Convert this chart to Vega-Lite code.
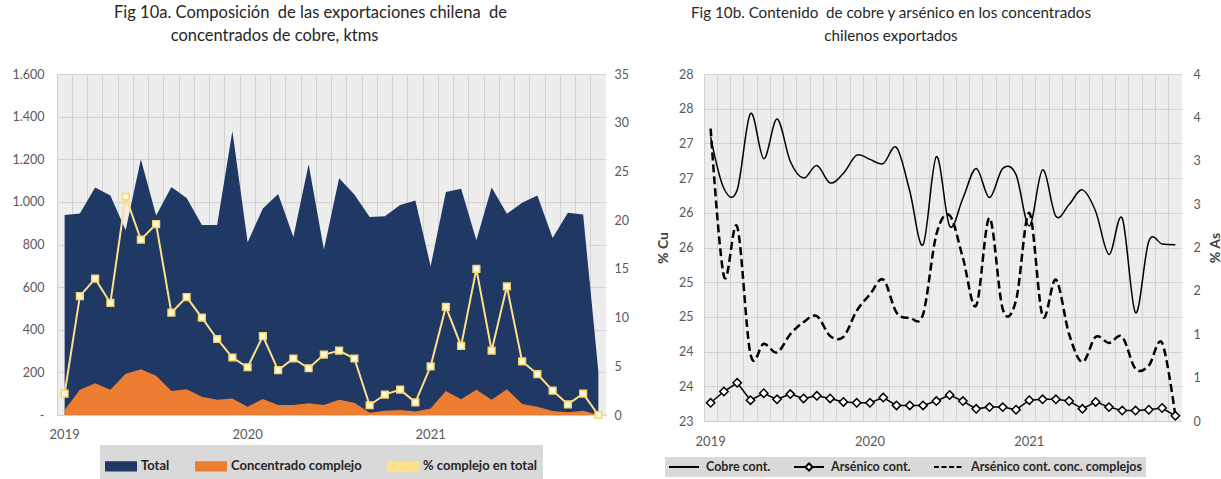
{
  "$schema": "https://vega.github.io/schema/vega-lite/v6.json",
  "background": "white",
  "padding": {"left": 12, "top": 4, "right": 0, "bottom": 0},
  "spacing": 27,
  "config": {
    "font": "Lato",
    "view": {"fill": "#ededed", "stroke": null},
    "axis": {"labelFont": "Lato", "labelFontSize": 12.5, "labelColor": "#595959", "domain": false, "ticks": false, "gridColor": "#d2d2d2", "titleFont": "Lato"},
    "title": {"font": "Lato", "fontWeight": "normal", "color": "#262626", "lineHeight": 23, "frame": "group", "anchor": "middle"}
  },
  "data": {"values": [
    {"m": "2019-01", "total": 938, "comp": 24, "pct": 2.2, "cu": 27.09, "arsenico": 0.21, "arsenico_cc": 3.37},
    {"m": "2019-02", "total": 946, "comp": 118, "pct": 12.2, "cu": 26.35, "arsenico": 0.34, "arsenico_cc": 1.67},
    {"m": "2019-03", "total": 1068, "comp": 149, "pct": 14.0, "cu": 26.33, "arsenico": 0.44, "arsenico_cc": 2.24},
    {"m": "2019-04", "total": 1030, "comp": 118, "pct": 11.5, "cu": 27.43, "arsenico": 0.24, "arsenico_cc": 0.77},
    {"m": "2019-05", "total": 867, "comp": 193, "pct": 22.4, "cu": 26.78, "arsenico": 0.32, "arsenico_cc": 0.89},
    {"m": "2019-06", "total": 1200, "comp": 215, "pct": 18.0, "cu": 27.35, "arsenico": 0.25, "arsenico_cc": 0.79},
    {"m": "2019-07", "total": 936, "comp": 184, "pct": 19.6, "cu": 26.74, "arsenico": 0.31, "arsenico_cc": 1.00},
    {"m": "2019-08", "total": 1070, "comp": 113, "pct": 10.5, "cu": 26.50, "arsenico": 0.26, "arsenico_cc": 1.14},
    {"m": "2019-09", "total": 1018, "comp": 121, "pct": 12.1, "cu": 26.68, "arsenico": 0.29, "arsenico_cc": 1.21},
    {"m": "2019-10", "total": 891, "comp": 86, "pct": 10.0, "cu": 26.43, "arsenico": 0.26, "arsenico_cc": 0.98},
    {"m": "2019-11", "total": 891, "comp": 71, "pct": 7.8, "cu": 26.57, "arsenico": 0.22, "arsenico_cc": 0.97},
    {"m": "2019-12", "total": 1333, "comp": 78, "pct": 5.9, "cu": 26.83, "arsenico": 0.21, "arsenico_cc": 1.27},
    {"m": "2020-01", "total": 811, "comp": 39, "pct": 4.9, "cu": 26.77, "arsenico": 0.21, "arsenico_cc": 1.46},
    {"m": "2020-02", "total": 969, "comp": 75, "pct": 8.1, "cu": 26.71, "arsenico": 0.27, "arsenico_cc": 1.63},
    {"m": "2020-03", "total": 1037, "comp": 47, "pct": 4.6, "cu": 26.94, "arsenico": 0.18, "arsenico_cc": 1.25},
    {"m": "2020-04", "total": 835, "comp": 47, "pct": 5.8, "cu": 26.31, "arsenico": 0.18, "arsenico_cc": 1.19},
    {"m": "2020-05", "total": 1176, "comp": 55, "pct": 4.8, "cu": 25.54, "arsenico": 0.18, "arsenico_cc": 1.23},
    {"m": "2020-06", "total": 776, "comp": 47, "pct": 6.2, "cu": 26.81, "arsenico": 0.23, "arsenico_cc": 2.15},
    {"m": "2020-07", "total": 1111, "comp": 71, "pct": 6.6, "cu": 25.81, "arsenico": 0.30, "arsenico_cc": 2.37},
    {"m": "2020-08", "total": 1035, "comp": 58, "pct": 5.8, "cu": 26.21, "arsenico": 0.23, "arsenico_cc": 1.88},
    {"m": "2020-09", "total": 929, "comp": 11, "pct": 1.0, "cu": 26.64, "arsenico": 0.14, "arsenico_cc": 1.33},
    {"m": "2020-10", "total": 933, "comp": 20, "pct": 2.1, "cu": 26.22, "arsenico": 0.16, "arsenico_cc": 2.34},
    {"m": "2020-11", "total": 985, "comp": 24, "pct": 2.6, "cu": 26.64, "arsenico": 0.16, "arsenico_cc": 1.29},
    {"m": "2020-12", "total": 1007, "comp": 16, "pct": 1.3, "cu": 26.55, "arsenico": 0.13, "arsenico_cc": 1.39},
    {"m": "2021-01", "total": 698, "comp": 31, "pct": 5.0, "cu": 25.81, "arsenico": 0.24, "arsenico_cc": 2.40},
    {"m": "2021-02", "total": 1046, "comp": 113, "pct": 11.1, "cu": 26.62, "arsenico": 0.25, "arsenico_cc": 1.21},
    {"m": "2021-03", "total": 1062, "comp": 74, "pct": 7.1, "cu": 25.95, "arsenico": 0.25, "arsenico_cc": 1.63},
    {"m": "2021-04", "total": 820, "comp": 118, "pct": 15.0, "cu": 26.12, "arsenico": 0.23, "arsenico_cc": 1.00},
    {"m": "2021-05", "total": 1068, "comp": 71, "pct": 6.6, "cu": 26.33, "arsenico": 0.14, "arsenico_cc": 0.68},
    {"m": "2021-06", "total": 944, "comp": 121, "pct": 13.2, "cu": 26.02, "arsenico": 0.22, "arsenico_cc": 0.97},
    {"m": "2021-07", "total": 996, "comp": 52, "pct": 5.5, "cu": 25.40, "arsenico": 0.16, "arsenico_cc": 0.90},
    {"m": "2021-08", "total": 1030, "comp": 39, "pct": 4.2, "cu": 25.92, "arsenico": 0.12, "arsenico_cc": 0.97},
    {"m": "2021-09", "total": 830, "comp": 19, "pct": 2.5, "cu": 24.56, "arsenico": 0.12, "arsenico_cc": 0.60},
    {"m": "2021-10", "total": 949, "comp": 13, "pct": 1.1, "cu": 25.59, "arsenico": 0.13, "arsenico_cc": 0.64},
    {"m": "2021-11", "total": 941, "comp": 20, "pct": 2.2, "cu": 25.55, "arsenico": 0.15, "arsenico_cc": 0.90},
    {"m": "2021-12", "total": 204, "comp": 0, "pct": 0.0, "cu": 25.54, "arsenico": 0.06, "arsenico_cc": 0.06}
  ]},
  "resolve": {"scale": {"color": "independent"}, "legend": {"color": "independent"}},
  "hconcat": [
    {
      "title": {"text": ["Fig 10a. Composición\u00a0 de las exportaciones chilena\u00a0 de", "concentrados de cobre, ktms\u00a0\u00a0\u00a0\u00a0\u00a0\u00a0\u00a0\u00a0\u00a0\u00a0\u00a0\u00a0\u00a0\u00a0\u00a0\u00a0\u00a0\u200b"], "fontSize": 16.5, "dx": -21, "offset": 24},
      "width": 549,
      "height": 341,
      "resolve": {"scale": {"y": "independent"}, "axis": {"x": "independent"}},
      "layer": [
        {
          "layer": [
            {
              "mark": {"type": "area", "opacity": 1},
              "encoding": {
                "x": {"field": "m", "type": "ordinal", "scale": {"type": "band", "paddingInner": 0, "paddingOuter": 0}, "bandPosition": 0.5,
                      "axis": {"orient": "bottom", "bandPosition": 0, "grid": true, "gridColor": "#d2d2d2", "labels": false, "ticks": false, "domain": true, "domainColor": "#d0d0d0", "title": null}},
                "y": {"field": "total", "type": "quantitative", "scale": {"domain": [0, 1600]},
                      "axis": {"values": [0, 200, 400, 600, 800, 1000, 1200, 1400, 1600], "grid": true, "title": null, "labelPadding": 13,
                               "labelExpr": "datum.value == 0 ? '-\u00a0\u00a0\u00a0\u00a0\u00a0\u00a0\u00a0\u00a0\u00a0\u00a0' : replace(format(datum.value, ','), ',', '.')"}},
                "color": {"datum": "Total", "type": "nominal",
                          "scale": {"domain": ["Total", "Concentrado complejo", "% complejo en total"], "range": ["#1f3864", "#ed7d31", "#ffe08a"]},
                          "legend": {"orient": "none", "legendX": 43, "legendY": 371, "direction": "horizontal", "title": null,
                                     "fillColor": "#d9d9d9", "padding": 5, "columnPadding": 22, "labelOffset": 4, "labelLimit": 300,
                                     "labelFont": "Lato", "labelFontSize": 13, "labelFontWeight": "bold", "labelColor": "#262626",
                                     "symbolSize": 900, "symbolType": "M-1,-0.28H1V0.28H-1Z", "symbolStrokeWidth": 2,
                                     "encode": {"symbols": {"update": {
                                       "shape": {"signal": "datum.label == '% complejo en total' ? 'M-1,0H-0.22M0.22,0H1M-0.22,-0.22H0.22V0.22H-0.22Z' : 'M-1,-0.28H1V0.28H-1Z'"},
                                       "fill": {"signal": "datum.label == 'Total' ? '#1f3864' : datum.label == 'Concentrado complejo' ? '#ed7d31' : '#fff8dc'"},
                                       "stroke": {"signal": "datum.label == '% complejo en total' ? '#ffe08a' : 'transparent'"},
                                       "strokeWidth": {"value": 2},
                                       "size": {"value": 900},
                                       "opacity": {"value": 1}
                                     }}}}}
              }
            },
            {
              "mark": {"type": "area", "opacity": 1},
              "encoding": {
                "x": {"field": "m", "type": "ordinal", "scale": {"type": "band", "paddingInner": 0, "paddingOuter": 0}, "bandPosition": 0.5},
                "y": {"field": "comp", "type": "quantitative"},
                "color": {"datum": "Concentrado complejo", "type": "nominal"}
              }
            }
          ]
        },
        {
          "layer": [
            {
              "mark": {"type": "line", "strokeWidth": 2},
              "encoding": {
                "x": {"field": "m", "type": "ordinal", "scale": {"type": "band", "paddingInner": 0, "paddingOuter": 0}, "bandPosition": 0.5,
                      "axis": {"orient": "bottom", "values": ["2019-01", "2020-01", "2021-01"], "labelExpr": "slice(datum.value, 0, 4)", "labelAngle": 0, "grid": false, "ticks": false, "domain": false, "title": null, "labelPadding": 13, "labelFontSize": 13}},
                "y": {"field": "pct", "type": "quantitative", "scale": {"domain": [0, 35]},
                      "axis": {"orient": "right", "values": [0, 5, 10, 15, 20, 25, 30, 35], "grid": false, "title": null, "labelPadding": 8}},
                "color": {"datum": "% complejo en total", "type": "nominal"}
              }
            },
            {
              "mark": {"type": "point", "shape": "square", "filled": true, "fill": "#fff8dc", "stroke": "#f7d66a", "strokeWidth": 1.5, "size": 45, "opacity": 1},
              "encoding": {
                "x": {"field": "m", "type": "ordinal", "scale": {"type": "band", "paddingInner": 0, "paddingOuter": 0}, "bandPosition": 0.5},
                "y": {"field": "pct", "type": "quantitative"}
              }
            }
          ]
        }
      ]
    },
    {
      "title": {"text": ["Fig 10b. Contenido\u00a0 de cobre y arsénico en los concentrados", "chilenos exportados"], "fontSize": 15.2, "dx": -52, "offset": 24},
      "width": 478,
      "height": 347,
      "resolve": {"scale": {"y": "independent"}, "axis": {"x": "independent"}},
      "layer": [
        {
          "mark": {"type": "line", "interpolate": "cardinal", "strokeWidth": 1.5},
          "encoding": {
            "x": {"field": "m", "type": "ordinal", "scale": {"type": "band", "paddingInner": 0, "paddingOuter": 0}, "bandPosition": 0.5,
                  "axis": {"orient": "bottom", "bandPosition": 0, "grid": true, "gridColor": "#d2d2d2", "labels": false, "ticks": false, "domain": true, "domainColor": "#d0d0d0", "title": null}},
            "y": {"field": "cu", "type": "quantitative", "scale": {"domain": [23, 28]},
                  "axis": {"values": [23, 23.5, 24, 24.5, 25, 25.5, 26, 26.5, 27, 27.5, 28], "format": ".0f", "grid": true, "title": "% Cu",
                           "titleFontWeight": "bold", "titleFontSize": 14, "titleColor": "#404040", "titlePadding": 8, "labelPadding": 11}},
            "color": {"datum": "Cobre cont.", "type": "nominal",
                      "scale": {"domain": ["Cobre cont.", "Arsénico cont.", "Arsénico cont. conc. complejos"], "range": ["#000000", "#000000", "#000000"]},
                      "legend": {"orient": "none", "legendX": -39, "legendY": 383, "direction": "horizontal", "title": null,
                                 "fillColor": "#d9d9d9", "padding": 3, "clipHeight": 14, "columnPadding": 22, "labelOffset": 6, "labelLimit": 400,
                                 "labelFont": "Lato", "labelFontSize": 12.5, "labelFontWeight": "bold", "labelColor": "#262626",
                                 "symbolSize": 900, "symbolType": "M-1,0H1", "symbolStrokeWidth": 2,
                                 "encode": {"symbols": {"update": {
                                   "shape": {"signal": "datum.label == 'Arsénico cont.' ? 'M-1,0H-0.24M0.24,0H1M-0.24,0L0,-0.24L0.24,0L0,0.24Z' : 'M-1,0H1'"},
                                   "fill": {"signal": "datum.label == 'Arsénico cont.' ? '#ffffff' : 'transparent'"},
                                   "stroke": {"value": "#000000"},
                                   "size": {"value": 900},
                                   "strokeWidth": {"value": 2},
                                   "strokeDash": {"signal": "datum.label == 'Arsénico cont. conc. complejos' ? [5, 2.5] : [1, 0]"},
                                   "opacity": {"value": 1}
                                 }}}}}
          }
        },
        {
          "layer": [
            {
              "mark": {"type": "line", "interpolate": "cardinal", "strokeWidth": 2.5, "strokeDash": [8, 4]},
              "encoding": {
                "x": {"field": "m", "type": "ordinal", "scale": {"type": "band", "paddingInner": 0, "paddingOuter": 0}, "bandPosition": 0.5,
                      "axis": {"orient": "bottom", "values": ["2019-01", "2020-01", "2021-01"], "labelExpr": "slice(datum.value, 0, 4)", "labelAngle": 0, "grid": false, "ticks": false, "domain": false, "title": null, "labelPadding": 14, "labelFontSize": 13}},
                "y": {"field": "arsenico_cc", "type": "quantitative", "scale": {"domain": [0, 4]},
                      "axis": {"orient": "right", "values": [0, 0.5, 1, 1.5, 2, 2.5, 3, 3.5, 4], "format": ".0f", "grid": false, "title": "% As",
                               "titleAngle": 270, "titleBaseline": "top", "titleFontWeight": "bold", "titleFontSize": 14, "titleColor": "#404040", "titlePadding": 8, "labelPadding": 11}},
                "color": {"datum": "Arsénico cont. conc. complejos", "type": "nominal"}
              }
            },
            {
              "mark": {"type": "line", "strokeWidth": 1.5},
              "encoding": {
                "x": {"field": "m", "type": "ordinal", "scale": {"type": "band", "paddingInner": 0, "paddingOuter": 0}, "bandPosition": 0.5},
                "y": {"field": "arsenico", "type": "quantitative"},
                "color": {"datum": "Arsénico cont.", "type": "nominal"}
              }
            },
            {
              "mark": {"type": "point", "shape": "diamond", "filled": true, "fill": "#ffffff", "stroke": "#000000", "strokeWidth": 1.5, "size": 70, "opacity": 1},
              "encoding": {
                "x": {"field": "m", "type": "ordinal", "scale": {"type": "band", "paddingInner": 0, "paddingOuter": 0}, "bandPosition": 0.5},
                "y": {"field": "arsenico", "type": "quantitative"}
              }
            }
          ]
        }
      ]
    }
  ]
}
